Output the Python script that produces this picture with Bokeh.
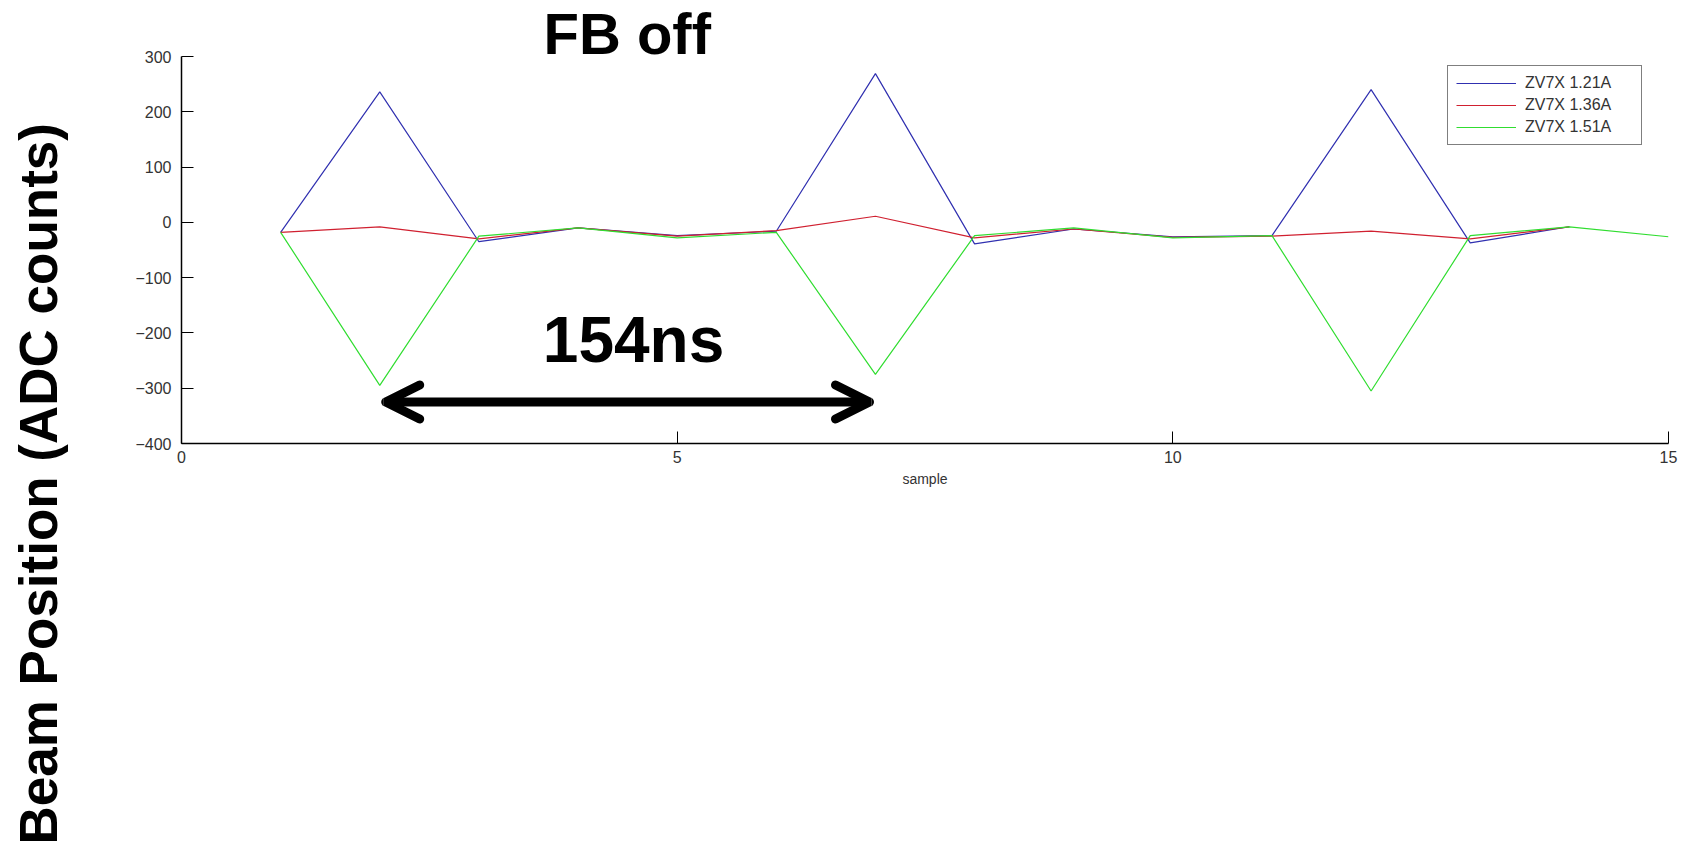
from bokeh.plotting import figure
from bokeh.layouts import row
from bokeh.models import Range1d, FixedTicker, Label, Arrow, OpenHead, Legend, LegendItem, Title
from bokeh.embed import file_html
from bokeh.resources import INLINE

# ---- data ----
samples_a = [1, 2, 3, 4, 5, 6, 7, 8, 9, 10, 11, 12, 13, 14]
zv7x_121 = [-18, 236, -35, -10, -24, -16, 269, -39, -12, -26, -24, 240, -37, -8]
zv7x_136 = [-18, -8, -30, -10, -25, -15, 11, -28, -12, -27, -25, -16, -30, -8]
samples_b = [1, 2, 3, 4, 5, 6, 7, 8, 9, 10, 11, 12, 13, 14, 15]
zv7x_151 = [-18, -295, -25, -10, -28, -18, -275, -24, -10, -28, -24, -305, -24, -8, -26]
series_names = ["ZV7X 1.21A", "ZV7X 1.36A", "ZV7X 1.51A"]
series_colors = ["#3030b0", "#d02030", "#30dd30"]
x_ticks = [0, 5, 10, 15]
y_ticks = [-400, -300, -200, -100, 0, 100, 200, 300]

FONT = "Liberation Sans"
H = 845
LW = 100  # width of the y-label strip

# ---- y-label strip ----
lab = figure(width=LW, height=H, output_backend="svg", toolbar_location=None,
             x_range=Range1d(0, 1), y_range=Range1d(0, 1),
             min_border=0, x_axis_type=None, y_axis_type=None)
lab.outline_line_color = None
lab.xgrid.visible = False
lab.ygrid.visible = False
lab.add_layout(Title(text="Beam Position (ADC counts)", align="left", offset=-401, standoff=12,
                     text_font=FONT, text_font_style="bold", text_font_size="53px",
                     text_color="black"), "left")

# ---- main plot ----
p = figure(width=1679 - LW, height=H, output_backend="svg", toolbar_location=None,
           x_range=Range1d(0, 15), y_range=Range1d(-400, 300),
           min_border_left=181 - LW, min_border_right=11, min_border_top=56,
           min_border_bottom=H - 443)
p.outline_line_color = None
p.xgrid.visible = False
p.ygrid.visible = False
p.background_fill_color = "white"
p.border_fill_color = "white"

r1 = p.line(samples_a, zv7x_121, line_color=series_colors[0], line_width=1.2)
r2 = p.line(samples_a, zv7x_136, line_color=series_colors[1], line_width=1.2)
r3 = p.line(samples_b, zv7x_151, line_color=series_colors[2], line_width=1.2)

for ax in (p.xaxis[0], p.yaxis[0]):
    ax.axis_line_color = "black"
    ax.axis_line_width = 1.5
    ax.major_tick_in = 12
    ax.major_tick_out = 0
    ax.minor_tick_in = 0
    ax.minor_tick_out = 0
    ax.major_tick_line_color = "black"
    ax.major_label_text_font = FONT
    ax.major_label_text_font_size = "16px"
    ax.major_label_text_color = "#333333"

p.xaxis[0].ticker = FixedTicker(ticks=x_ticks)
p.yaxis[0].ticker = FixedTicker(ticks=y_ticks)
p.xaxis[0].major_label_standoff = 7
p.yaxis[0].major_label_standoff = 10
p.xaxis[0].axis_label = "sample"
p.xaxis[0].axis_label_text_font = FONT
p.xaxis[0].axis_label_text_font_size = "14px"
p.xaxis[0].axis_label_text_font_style = "normal"
p.xaxis[0].axis_label_text_color = "#333333"
p.xaxis[0].axis_label_standoff = 5

legend = Legend(items=[LegendItem(label=series_names[0], renderers=[r1]),
                       LegendItem(label=series_names[1], renderers=[r2]),
                       LegendItem(label=series_names[2], renderers=[r3])],
                location=(1266, 298))
legend.border_line_color = "black"
legend.border_line_width = 1
legend.label_text_font = FONT
legend.label_text_font_size = "16px"
legend.label_text_color = "#333333"
legend.glyph_width = 60
legend.glyph_height = 18
legend.label_height = 18
legend.label_width = 108
legend.label_standoff = 9
legend.padding = 8
legend.spacing = 4
legend.margin = 0
legend.background_fill_alpha = 1
p.add_layout(legend)

# Title "FB off"
p.add_layout(Title(text="FB off", align="left", offset=362, standoff=-18, vertical_align="bottom",
                   text_font=FONT, text_font_style="bold", text_font_size="58px",
                   text_color="black"), "above")

# Period annotation
p.add_layout(Arrow(x_start=2.06, y_start=-325, x_end=6.94, y_end=-325, line_width=9,
                   line_color="black", line_cap="round",
                   start=OpenHead(size=34, line_width=9, line_color="black", line_cap="round"),
                   end=OpenHead(size=34, line_width=9, line_color="black", line_cap="round")))
p.add_layout(Label(x=4.56, y=-212, text="154ns", text_font=FONT, text_font_style="bold",
                   text_font_size="64px", text_align="center", text_baseline="middle",
                   text_color="black"))

layout = row(lab, p, spacing=0)
open("out.html", "w").write(file_html(layout, INLINE))
